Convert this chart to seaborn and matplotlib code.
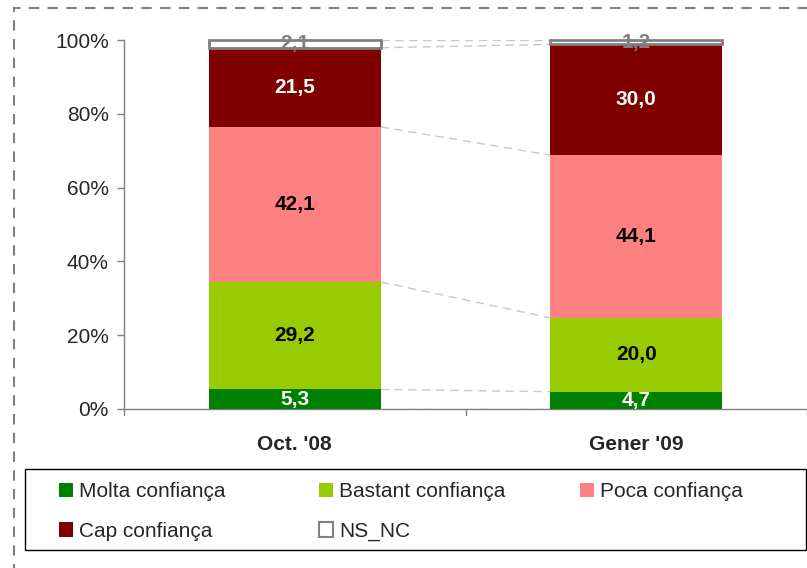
import numpy as np
import pandas as pd
import matplotlib
matplotlib.use('Agg')
import matplotlib.pyplot as plt
import seaborn as sns
from matplotlib.patches import Rectangle, Patch

# data
periods = ["Oct. '08", "Gener '09"]
groups = ['Molta confiança', 'Bastant confiança', 'Poca confiança', 'Cap confiança', 'NS_NC']
molta = [5.3, 4.7]
bastant = [29.2, 20.0]
poca = [42.1, 44.1]
cap = [21.5, 30.0]
ns_nc = [2.1, 1.2]

colors = ['#008000', '#99CC00', '#FF8080', '#800000', '#FFFFFF']
text_colors = ['white', 'black', 'black', 'white', '#808080']

df = pd.DataFrame({'period': periods, groups[0]: molta, groups[1]: bastant,
                   groups[2]: poca, groups[3]: cap, groups[4]: ns_nc})
# stacked to 100%
shares = df[groups].div(df[groups].sum(axis=1), axis=0) * 100

sns.set_style('white')
plt.rcParams['font.family'] = ['Liberation Sans', 'DejaVu Sans']

fig = plt.figure(figsize=(8.07, 5.68), dpi=100)
ax = fig.add_axes([124 / 807, 1 - 409 / 568, 683 / 807, 369 / 568])

bar_w = 0.503
bottom = np.zeros(len(periods))
bounds = []
for i, g in enumerate(groups):
    edge = '#808080' if g == 'NS_NC' else 'none'
    lw = 2 if g == 'NS_NC' else 0
    sns.barplot(x=df['period'], y=shares[g], bottom=bottom, color=colors[i],
                width=bar_w, edgecolor=edge, linewidth=lw, ax=ax,
                saturation=1, clip_on=False, zorder=3)
    for j, p in enumerate(periods):
        y = bottom[j] + shares[g][j] / 2
        ax.text(j, y, f'{df[g][j]:.1f}'.replace('.', ','), ha='center', va='center',
                color=text_colors[i], fontsize=15, fontweight='bold', zorder=5)
    bottom = bottom + shares[g].values
    bounds.append(bottom.copy())

# dashed connector lines between the bars
half = bar_w / 2
for b in [np.zeros(2)] + bounds[:-1] + [np.array([100.0, 100.0])]:
    ax.plot([half, 1 - half], [b[0], b[1]], ls=(0, (6, 4)), color='#C8C8C8', lw=1, zorder=2)

ax.set_xlim(-0.5, 1.5)
ax.set_ylim(0, 100)
ax.set_yticks(np.arange(0, 101, 20))
ax.set_yticklabels([f'{v}%' for v in range(0, 101, 20)], fontsize=15)
ax.set_xticks([0, 1])
ax.set_xticklabels(periods, fontsize=15, fontweight='bold')
ax.tick_params(axis='x', length=0, pad=19)
ax.tick_params(axis='y', length=5, width=1, color='#808080', direction='out', left=True, pad=6)
for x in [-0.5, 0.5, 1.5]:
    ax.plot([x, x], [0, -1.5], color='#808080', lw=1, clip_on=False)
ax.set_xlabel('')
ax.set_ylabel('')
for s in ['top', 'right']:
    ax.spines[s].set_visible(False)
for s in ['left', 'bottom']:
    ax.spines[s].set_color('#808080')
    ax.spines[s].set_linewidth(1)

# legend: three columns, filled row by row, inside one solid frame
handles = [Patch(facecolor=c, edgecolor=('#808080' if g == 'NS_NC' else c), lw=(1.5 if g == 'NS_NC' else 0))
           for c, g in zip(colors, groups)]
columns = [[0, 3], [1, 4], [2]]
col_x = [59, 319, 580]
for idx, x in zip(columns, col_x):
    fig.legend([handles[k] for k in idx], [groups[k] for k in idx], loc='upper left',
               bbox_to_anchor=(x / 807, 1 - 482 / 568), frameon=False, fontsize=15,
               handlelength=0.67, handleheight=0.67, handletextpad=0.3,
               borderaxespad=0, borderpad=0, labelspacing=1.0)
fig.patches.append(Rectangle((25 / 807, 1 - 550 / 568), 781 / 807, 81 / 568, transform=fig.transFigure,
                             fill=False, edgecolor='black', lw=1))

# dashed outer border
fig.patches.append(Rectangle((14 / 807, -0.1), 1.2, 1 - 8 / 568 + 0.1, transform=fig.transFigure,
                             fill=False, ls=(0, (5, 4)), color='#808080', lw=1.5))

fig.savefig('out.png', dpi=100)
